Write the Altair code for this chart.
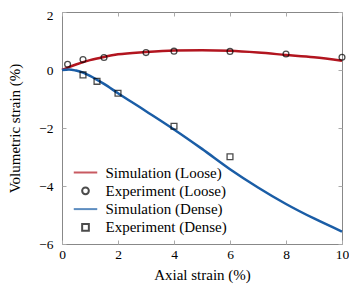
import altair as alt
import pandas as pd

# ---- data ----
sim_loose_x = [0, 0.25, 0.5, 1, 1.5, 2, 3, 4, 5, 6, 7, 8, 9, 10]
sim_loose_y = [0, 0.10, 0.19, 0.34, 0.45, 0.54, 0.62, 0.67, 0.68, 0.66, 0.60, 0.52, 0.44, 0.32]

sim_dense_x = [0, 0.25, 0.5, 0.75, 1, 1.5, 2, 3, 4, 5, 6, 7, 8, 9, 10]
sim_dense_y = [0, 0.02, -0.02, -0.09, -0.2, -0.48, -0.8, -1.42, -2.05, -2.72, -3.42, -4.05, -4.62, -5.12, -5.57]

exp_loose_x = [0.2, 0.75, 1.5, 3, 4, 6, 8, 10]
exp_loose_y = [0.2, 0.36, 0.43, 0.6, 0.65, 0.64, 0.55, 0.44]

exp_dense_x = [0.75, 1.25, 2, 4, 6]
exp_dense_y = [-0.17, -0.39, -0.8, -1.94, -2.99]

series = ["Simulation (Loose)", "Experiment (Loose)", "Simulation (Dense)", "Experiment (Dense)"]
colors = ["#b2151f", "#000000", "#1a5da6", "#000000"]
x_ticks = [0, 2, 4, 6, 8, 10]
y_ticks = [-6, -4, -2, 0, 2]

LINE = "M-3.5,0L3.5,0"
shapes = [LINE, "circle", LINE, "square"]

sim = pd.concat([
    pd.DataFrame({"x": sim_loose_x, "y": sim_loose_y, "series": series[0]}),
    pd.DataFrame({"x": sim_dense_x, "y": sim_dense_y, "series": series[2]}),
])
exp = pd.concat([
    pd.DataFrame({"x": exp_loose_x, "y": exp_loose_y, "series": series[1]}),
    pd.DataFrame({"x": exp_dense_x, "y": exp_dense_y, "series": series[3]}),
])

FONT = "Liberation Serif"
xs = alt.Scale(domain=[0, 10], nice=False, zero=False)
ys = alt.Scale(domain=[-6, 2], nice=False, zero=False)

color_scale = alt.Scale(domain=series, range=colors)
shape_scale = alt.Scale(domain=series, range=shapes)

legend = alt.Legend(
    title=None, orient="none", legendX=16, legendY=153, padding=0,
    symbolSize=45, symbolStrokeWidth=2, labelFont=FONT, labelFontSize=15,
    labelColor="black", labelOffset=12.5, rowPadding=2.3,
)

common_axis = dict(grid=False, domain=False, tickSize=4, offset=-4, tickColor="#aaaaaa",
                   labelFlush=False,
                   labelFont=FONT, labelFontSize=13.5, labelColor="black",
                   titleFont=FONT, titleFontSize=15, titleFontWeight="normal", titleColor="black")

x_axis = alt.Axis(orient="bottom", values=x_ticks, title="Axial strain (%)",
                  labelPadding=3, titlePadding=7, **common_axis)
y_axis = alt.Axis(orient="left", values=y_ticks, title="Volumetric strain (%)",
                  labelPadding=9, titlePadding=16,
                  labelOffset={"condition": {"test": "datum.value == 2", "value": 3}, "value": 0},
                  **common_axis)
x_axis_top = alt.Axis(orient="top", values=x_ticks, title=None, labels=False,
                      grid=False, domain=False, tickSize=4, offset=-4, tickColor="#aaaaaa")
y_axis_right = alt.Axis(orient="right", values=y_ticks, title=None, labels=False,
                        grid=False, domain=False, tickSize=4, offset=-4, tickColor="#aaaaaa")

lines = alt.Chart(sim).mark_line(strokeWidth=2.5, interpolate="monotone").encode(
    x=alt.X("x:Q", scale=xs, axis=x_axis),
    y=alt.Y("y:Q", scale=ys, axis=y_axis),
    color=alt.Color("series:N", scale=color_scale, legend=legend),
)

points = alt.Chart(exp).mark_point(filled=False, size=34, strokeWidth=1.3).encode(
    x=alt.X("x:Q", scale=xs, axis=None),
    y=alt.Y("y:Q", scale=ys, axis=None),
    color=alt.Color("series:N", scale=color_scale, legend=legend),
    shape=alt.Shape("series:N", scale=shape_scale, legend=legend),
)

frame = alt.Chart(exp).mark_point(opacity=0).encode(
    x=alt.X("x:Q", scale=xs, axis=x_axis_top),
    y=alt.Y("y:Q", scale=ys, axis=y_axis_right),
)

chart = alt.layer(frame, lines, points).resolve_axis(
    x="independent", y="independent"
).properties(
    width=280, height=232, autosize="none",
    padding={"left": 54, "top": 4, "right": 7, "bottom": 40},
).configure_view(stroke="#888888", strokeWidth=1)

chart.save("out.html", embed_options={"renderer": "svg", "actions": False})
